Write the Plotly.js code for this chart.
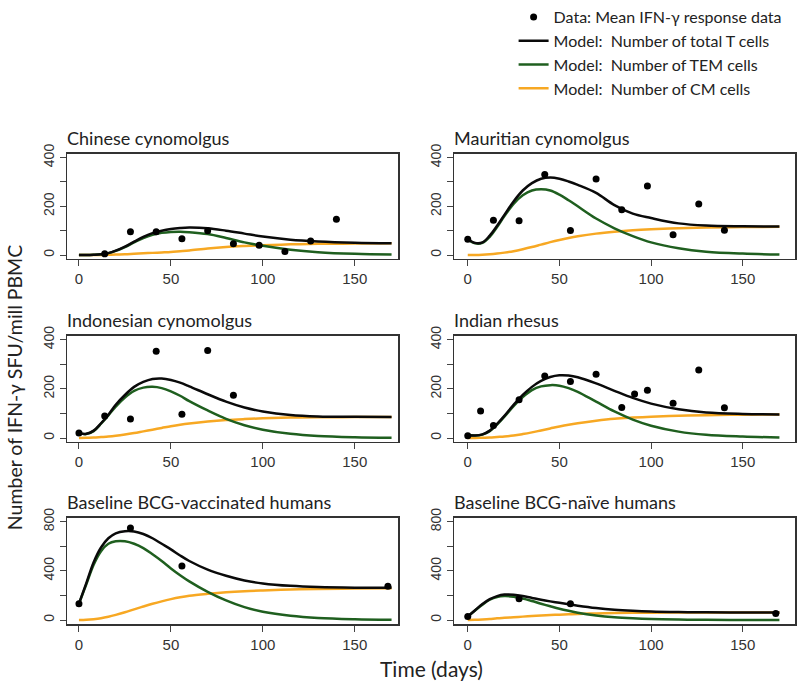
<!DOCTYPE html>
<html>
<head>
<meta charset="utf-8">
<script src="https://cdn.plot.ly/plotly-3.0.1.min.js"></script>
<style>
  html, body { margin: 0; padding: 0; background: #fff; }
  #plot { width: 800px; height: 685px; }
</style>
</head>
<body>
<div id="plot"></div>
<script>
/*
IFN-gamma response: data and model, six populations
*/

// panel titles
var panelTitles = [
  "Chinese cynomolgus",
  "Mauritian cynomolgus",
  "Indonesian cynomolgus",
  "Indian rhesus",
  "Baseline BCG-vaccinated humans",
  "Baseline BCG-naïve humans"
];

// time grid used to read the model curves off the picture
var modelDays = [0, 4, 8, 12, 16, 20, 25, 30, 35, 40, 45, 50, 55, 60, 70, 80, 90, 100, 115, 130, 150, 170];

// data points (mean IFN-gamma response)
var chineseDays = [14, 28, 42, 56, 70, 84, 98, 112, 126, 140];
var chineseData = [5, 96, 96, 67, 100, 46, 40, 15, 58, 147];
var mauritianDays = [0, 14, 28, 42, 56, 70, 84, 98, 112, 126, 140];
var mauritianData = [65, 143, 141, 331, 101, 312, 186, 283, 83, 210, 102];
var indonesianDays = [0, 14, 28, 42, 56, 70, 84];
var indonesianData = [20, 90, 77, 353, 97, 356, 174];
var rhesusDays = [0, 7, 14, 28, 42, 56, 70, 84, 91, 98, 112, 126, 140];
var rhesusData = [9, 110, 51, 156, 252, 230, 259, 124, 179, 194, 141, 277, 123];
var vaccinatedDays = [0, 28, 56, 168];
var vaccinatedData = [133, 749, 440, 275];
var naiveDays = [0, 28, 56, 168];
var naiveData = [29, 173, 133, 53];

// model: total T cells
var chineseTotal    = [0, 0, 1, 3, 8, 18, 35, 55, 75, 90, 100, 107, 111, 113, 110, 100, 88, 76, 63, 56, 51, 49];
var mauritianTotal  = [65, 50, 52, 80, 120, 165, 220, 265, 295, 313, 318, 313, 302, 288, 255, 205, 170, 152, 130, 121, 118, 117];
var indonesianTotal = [20, 17, 30, 60, 95, 135, 175, 208, 228, 240, 242, 236, 225, 210, 178, 148, 124, 108, 94, 88, 86, 85];
var rhesusTotal     = [12, 10, 15, 30, 58, 90, 135, 175, 208, 232, 248, 255, 254, 247, 222, 192, 163, 140, 117, 104, 98, 96];
var vaccinatedTotal = [133, 300, 470, 590, 665, 705, 722, 720, 700, 665, 620, 575, 525, 480, 410, 360, 322, 298, 278, 268, 263, 262];
var naiveTotal      = [29, 80, 130, 170, 195, 207, 205, 195, 180, 165, 152, 140, 128, 117, 98, 84, 75, 69, 65, 63, 62, 62];

// model: TEM cells
var chineseTEM    = [0, 0, 1, 3, 8, 17, 33, 52, 70, 83, 91, 95, 96, 94, 86, 70, 52, 38, 22, 12, 5, 2];
var mauritianTEM  = [65, 48, 50, 75, 115, 160, 210, 245, 265, 270, 265, 248, 225, 200, 150, 110, 78, 52, 28, 14, 6, 2];
var indonesianTEM = [20, 16, 28, 58, 92, 128, 165, 192, 205, 208, 203, 190, 172, 150, 112, 78, 52, 34, 17, 8, 3, 1];
var rhesusTEM     = [12, 10, 14, 28, 55, 87, 130, 167, 195, 210, 215, 213, 203, 188, 148, 108, 75, 50, 26, 13, 6, 2];
var vaccinatedTEM = [133, 290, 450, 560, 620, 640, 640, 620, 585, 535, 480, 420, 365, 315, 230, 160, 105, 68, 35, 17, 7, 3];
var naiveTEM      = [29, 78, 125, 165, 188, 195, 190, 175, 155, 133, 112, 92, 75, 60, 38, 23, 14, 8, 4, 2, 1, 0];

// model: CM cells
var chineseCM    = [0, 0, 0, 0, 1, 2, 3, 5, 7, 9, 11, 13, 16, 19, 27, 33, 37, 40, 44, 46, 47, 48];
var mauritianCM  = [0, 0, 1, 3, 6, 10, 16, 24, 33, 43, 53, 62, 70, 77, 88, 96, 102, 106, 110, 113, 115, 116];
var indonesianCM = [0, 1, 2, 4, 6, 9, 14, 20, 27, 34, 41, 48, 54, 59, 67, 73, 77, 80, 83, 84, 85, 85];
var rhesusCM     = [0, 0, 1, 2, 4, 6, 10, 16, 23, 31, 39, 47, 54, 60, 70, 78, 83, 87, 91, 93, 95, 96];
var vaccinatedCM = [0, 2, 7, 15, 27, 42, 63, 87, 110, 132, 152, 170, 185, 197, 213, 226, 235, 241, 248, 252, 256, 258];
var naiveCM      = [0, 2, 5, 9, 14, 18, 23, 28, 33, 37, 41, 44, 47, 50, 54, 57, 59, 60, 61, 62, 62, 62];

var dataDays  = [chineseDays, mauritianDays, indonesianDays, rhesusDays, vaccinatedDays, naiveDays];
var dataVals  = [chineseData, mauritianData, indonesianData, rhesusData, vaccinatedData, naiveData];
var totalVals = [chineseTotal, mauritianTotal, indonesianTotal, rhesusTotal, vaccinatedTotal, naiveTotal];
var temVals   = [chineseTEM, mauritianTEM, indonesianTEM, rhesusTEM, vaccinatedTEM, naiveTEM];
var cmVals    = [chineseCM, mauritianCM, indonesianCM, rhesusCM, vaccinatedCM, naiveCM];

var BLACK = '#0a0a0a';
var GREEN = '#1f5f1f';
var ORANGE = '#f7a823';

var xDomains = [[0.08375, 0.4975], [0.5675, 0.99375]];
var xRanges = [[-6.5, 173.5], [-7.5, 178.5]];
var yDomains = [[0.6321, 0.7883], [0.3606, 0.5182], [0.0905, 0.2482]];

var data = [];
var layout = {
  width: 800,
  height: 685,
  margin: { l: 0, r: 0, t: 0, b: 0 },
  paper_bgcolor: '#fff',
  plot_bgcolor: '#fff',
  font: { family: 'Lato, "Open Sans", sans-serif', color: '#222' },
  showlegend: true,
  legend: {
    x: 0.642,
    y: 1.017,
    xanchor: 'left',
    yanchor: 'top',
    bgcolor: 'rgba(0,0,0,0)',
    font: { family: 'Lato, sans-serif', size: 16, color: '#222' },
    tracegroupgap: 0
  },
  annotations: [],
  hovermode: false
};

for (var i = 0; i < 6; i++) {
  var col = i % 2;
  var row = Math.floor(i / 2);
  var n = i + 1;
  var xa = n === 1 ? 'x' : 'x' + n;
  var ya = n === 1 ? 'y' : 'y' + n;
  var first = i === 0;
  var big = row === 2;

  data.push({
    x: modelDays, y: cmVals[i], xaxis: xa, yaxis: ya,
    type: 'scatter', mode: 'lines',
    line: { color: ORANGE, width: 2.5, shape: 'spline' },
    name: 'Model:  Number of CM cells', showlegend: first, legendrank: 4
  });
  data.push({
    x: modelDays, y: temVals[i], xaxis: xa, yaxis: ya,
    type: 'scatter', mode: 'lines',
    line: { color: GREEN, width: 2.5, shape: 'spline' },
    name: 'Model:  Number of TEM cells', showlegend: first, legendrank: 3
  });
  data.push({
    x: modelDays, y: totalVals[i], xaxis: xa, yaxis: ya,
    type: 'scatter', mode: 'lines',
    line: { color: BLACK, width: 2.5, shape: 'spline' },
    name: 'Model:  Number of total T cells', showlegend: first, legendrank: 2
  });
  data.push({
    x: dataDays[i], y: dataVals[i], xaxis: xa, yaxis: ya,
    type: 'scatter', mode: 'markers',
    marker: { color: '#000', size: 7 },
    name: 'Data: Mean IFN-γ response data', showlegend: first, legendrank: 1
  });

  var xKey = n === 1 ? 'xaxis' : 'xaxis' + n;
  var yKey = n === 1 ? 'yaxis' : 'yaxis' + n;

  layout[xKey] = {
    domain: xDomains[col],
    anchor: ya,
    range: xRanges[col],
    tickvals: [0, 50, 100, 150],
    ticks: 'outside', ticklen: 6, tickcolor: '#444',
    showline: true, mirror: true, linecolor: '#333', linewidth: 1.5,
    showgrid: false, zeroline: false,
    tickfont: { family: '"Liberation Sans", Arial, sans-serif', size: 15, color: '#333' }
  };
  layout[yKey] = {
    domain: yDomains[row],
    anchor: xa,
    range: big ? [-32, 832] : [-16, 416],
    tickvals: big ? [0, 200, 400, 600, 800] : [0, 100, 200, 300, 400],
    ticktext: big ? ['0', '', '400', '', '800'] : ['0', '', '200', '', '400'],
    tickangle: -90,
    ticks: 'outside', ticklen: 6, tickcolor: '#444',
    showline: true, mirror: true, linecolor: '#333', linewidth: 1.5,
    showgrid: false, zeroline: false,
    tickfont: { family: '"Liberation Sans", Arial, sans-serif', size: 14, color: '#333' }
  };

  layout.annotations.push({
    text: panelTitles[i],
    xref: 'paper', yref: 'paper',
    x: xDomains[col][0] - 0.003, y: yDomains[row][1] + 0.004,
    xanchor: 'left', yanchor: 'bottom',
    showarrow: false,
    font: { family: 'Lato, sans-serif', size: 18, color: '#222' }
  });
}

layout.annotations.push({
  text: 'Number of IFN-γ SFU/mill PBMC',
  xref: 'paper', yref: 'paper',
  x: 0.018, y: 0.441,
  xanchor: 'center', yanchor: 'middle',
  textangle: -90,
  showarrow: false,
  font: { family: 'Lato, sans-serif', size: 19.5, color: '#222' }
});
layout.annotations.push({
  text: 'Time (days)',
  xref: 'paper', yref: 'paper',
  x: 0.539, y: 0.024,
  xanchor: 'center', yanchor: 'middle',
  showarrow: false,
  font: { family: 'Lato, sans-serif', size: 21, color: '#222' }
});

Plotly.newPlot('plot', data, layout, { staticPlot: true });
</script>
</body>
</html>
